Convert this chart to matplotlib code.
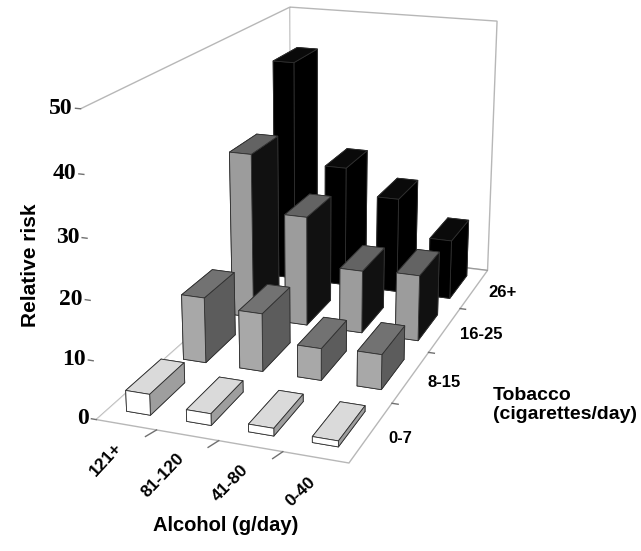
import numpy as np
import matplotlib.pyplot as plt

alcohol = ['121+', '81-120', '41-80', '0-40']
tobacco = ['0-7', '8-15', '16-25', '26+']

# relative risk for each tobacco group, alcohol in the order above
rr_0_7 = [3.6, 2.0, 1.3, 1.0]
rr_8_15 = [11.8, 10.4, 5.7, 6.2]
rr_16_25 = [31.0, 20.5, 11.7, 12.2]
rr_26 = [43.0, 23.5, 18.5, 11.5]
risk = [rr_0_7, rr_8_15, rr_16_25, rr_26]

z_ticks = [0, 10, 20, 30, 40, 50]

# shades per tobacco group: front face, top, right side
c_front = ['#ffffff', '#a8a8a8', '#9c9c9c', '#000000']
c_top = ['#dadada', '#727272', '#636363', '#0a0a0a']
c_side = ['#9e9e9e', '#5c5c5c', '#111111', '#000000']

fig = plt.figure(figsize=(6.41, 5.51), dpi=100)
ax = fig.add_axes([-0.02, 0.12, 1.0, 1.0], projection='3d')

bw, bd = 0.4, 0.6
xs, ys, hs, cols = [], [], [], []
for j, row in enumerate(risk):
    for i, v in enumerate(row):
        xs.append(i + 0.5 - bw / 2)
        ys.append(j + 0.5 - bd / 2)
        hs.append(v)
        # face order in bar3d: -z, +z, -y, +y, -x, +x
        cols += [c_front[j], c_top[j], c_front[j], c_front[j], c_side[j], c_side[j]]

ax.bar3d(xs, ys, np.zeros(len(xs)), bw, bd, hs, color=cols, shade=False,
         edgecolor='#303030', linewidth=0.6)

ax.set_xlim(0, 4)
ax.set_ylim(0, 4)
ax.set_zlim(0, 50)
ax.set_box_aspect((1.0, 2.05, 1.2), zoom=1.1)
ax.set_proj_type('persp', focal_length=0.5)
ax.view_init(elev=18, azim=-70)

ax.grid(False)
for a in (ax.xaxis, ax.yaxis, ax.zaxis):
    a.pane.set_facecolor('white')
    a.pane.set_edgecolor('#707070')
    a.pane.set_linewidth(1.0)
    a.line.set_color((0, 0, 0, 0))
    a.set_ticks([])

# value axis on the front left edge
for t in z_ticks:
    ax.plot([0, -0.08], [0, 0], [t, t], color='#707070', lw=1.0)
    ax.text(-0.12, 0, t, str(t), ha='right', va='center',
            fontfamily='Liberation Serif', fontweight='bold', fontsize=17)

lab = dict(fontfamily='Liberation Sans', fontweight='bold')
for i, name in enumerate(alcohol):
    if i > 0:
        ax.plot([i, i - 0.06], [0, -0.12], [0, 0], color='#707070', lw=1.0)
    ax.text(i + 0.7, -0.22, 0, name, zdir=(1, 0, 12.5), ha='right', va='top',
            fontsize=12.5, **lab)
for j, name in enumerate(tobacco):
    if j > 0:
        ax.plot([4, 4.1], [j, j], [0, 0], color='#707070', lw=1.0)
    ax.text(4.3, j + 0.45, 0, name, ha='left', va='center', fontsize=12, **lab)

fig.text(0.048, 0.519, 'Relative risk', rotation=90, ha='center', va='center',
         fontsize=15, **lab)
fig.text(0.352, 0.047, 'Alcohol (g/day)', ha='center', va='center',
         fontsize=14.5, **lab)
fig.text(0.769, 0.265, 'Tobacco\n(cigarettes/day)', ha='left', va='center',
         fontsize=14, linespacing=1.1, **lab)

fig.savefig('out.png', dpi=100)
